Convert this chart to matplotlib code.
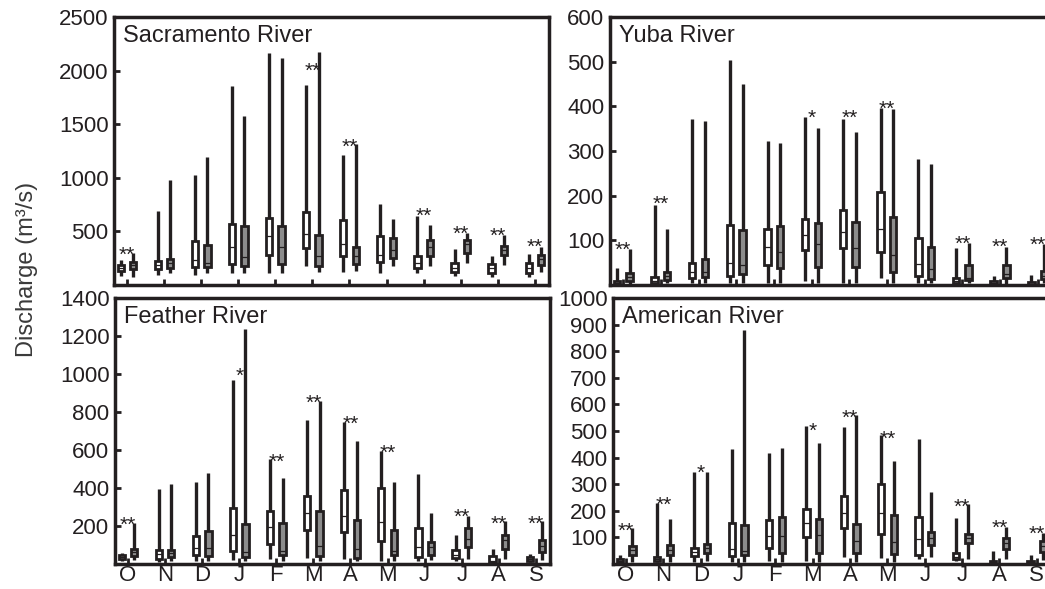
import matplotlib
matplotlib.use("Agg")
import matplotlib.pyplot as plt

plt.rcParams["font.family"] = ["Liberation Sans", "DejaVu Sans"]

months = ["O", "N", "D", "J", "F", "M", "A", "M", "J", "J", "A", "S"]

# per month: [whisker low, q1, median, q3, whisker high] in m3/s
sac_white = [[85, 130, 158, 185, 235], [94, 147, 187, 225, 688], [94, 172, 234, 412, 1025],
             [116, 197, 359, 569, 1859], [116, 281, 459, 625, 2166], [178, 344, 475, 684, 1869],
             [125, 272, 381, 603, 1212], [116, 219, 281, 453, 759], [109, 156, 203, 272, 647],
             [84, 125, 162, 203, 334], [72, 109, 156, 197, 272], [78, 116, 162, 203, 291]]
sac_gray = [[78, 150, 190, 215, 297], [109, 162, 203, 240, 984], [109, 172, 203, 375, 1197],
            [109, 181, 259, 553, 1572], [109, 197, 359, 547, 2122], [125, 181, 266, 469, 2172],
            [134, 197, 266, 359, 1312], [178, 250, 322, 438, 616], [178, 266, 359, 422, 562],
            [203, 297, 384, 422, 484], [188, 281, 322, 366, 469], [125, 188, 241, 281, 353]]
sac_stars = [(1, 344, "**"), (6, 2060, "**"), (7, 1353, "**"), (9, 703, "**"),
             (10, 537, "**"), (11, 516, "**"), (12, 416, "**")]

yuba_white = [[0, 2, 5, 10, 38], [0, 4, 8, 17, 180], [4, 15, 28, 49, 372],
              [4, 20, 49, 135, 504], [5, 44, 86, 126, 323], [8, 79, 113, 147, 376],
              [4, 83, 118, 169, 372], [15, 75, 126, 208, 396], [4, 20, 47, 106, 282],
              [0, 5, 10, 16, 83], [0, 2, 5, 10, 21], [0, 1, 3, 6, 22]]
yuba_gray = [[2, 8, 19, 26, 80], [4, 11, 20, 28, 126], [4, 17, 30, 58, 368],
             [4, 25, 45, 123, 449], [4, 38, 75, 132, 317], [4, 41, 92, 139, 351],
             [4, 41, 83, 141, 342], [4, 28, 68, 153, 395], [4, 14, 36, 86, 271],
             [5, 12, 16, 44, 93], [2, 16, 25, 44, 85], [4, 14, 20, 31, 91]]
yuba_stars = [(1, 94, "**"), (2, 196, "**"), (6, 389, "*"), (7, 389, "**"),
              (8, 410, "**"), (10, 106, "**"), (11, 100, "**"), (12, 105, "**")]

feather_white = [[17, 28, 35, 45, 58], [10, 28, 52, 75, 395], [14, 48, 82, 150, 430],
                 [19, 70, 152, 297, 968], [24, 105, 196, 278, 553], [31, 178, 268, 358, 760],
                 [28, 170, 253, 387, 745], [14, 119, 222, 402, 597], [14, 37, 89, 189, 474],
                 [14, 31, 49, 72, 154], [5, 10, 18, 42, 80], [10, 17, 24, 37, 54]]
feather_gray = [[20, 44, 65, 80, 215], [14, 38, 58, 76, 420], [14, 40, 82, 172, 478],
                [14, 35, 65, 210, 1239], [14, 45, 68, 214, 451], [14, 42, 93, 278, 856],
                [14, 33, 77, 233, 646], [14, 45, 66, 177, 434], [19, 49, 89, 115, 270],
                [28, 89, 133, 191, 255], [28, 80, 128, 154, 224], [19, 63, 93, 124, 226]]
feather_stars = [(1, 241, "**"), (4, 1025, "*"), (5, 574, "**"), (6, 882, "**"),
                 (7, 772, "**"), (8, 620, "**"), (10, 282, "**"), (11, 247, "**"),
                 (12, 247, "**")]

american_white = [[4, 9, 12, 19, 35], [6, 12, 19, 27, 229], [9, 29, 44, 62, 346],
                  [9, 31, 56, 156, 431], [12, 62, 106, 166, 416], [12, 100, 156, 206, 519],
                  [25, 134, 190, 256, 516], [21, 112, 190, 300, 485], [20, 35, 95, 176, 469],
                  [10, 17, 26, 41, 172], [2, 5, 8, 12, 47], [2, 5, 8, 12, 35]]
american_gray = [[9, 34, 52, 69, 134], [9, 35, 54, 71, 169], [12, 40, 59, 77, 346],
                 [9, 35, 50, 146, 879], [9, 40, 106, 175, 437], [9, 40, 109, 171, 456],
                 [9, 40, 87, 150, 560], [9, 37, 81, 185, 387], [26, 70, 97, 120, 270],
                 [20, 80, 97, 114, 226], [17, 57, 80, 97, 139], [14, 45, 67, 85, 117]]
american_stars = [(1, 150, "**"), (2, 246, "**"), (3, 369, "*"), (6, 525, "*"),
                  (7, 575, "**"), (8, 494, "**"), (10, 241, "**"), (11, 160, "**"),
                  (12, 139, "**")]

panels = [
    ("Sacramento River", sac_white, sac_gray, sac_stars, 2500, [500, 1000, 1500, 2000, 2500]),
    ("Yuba River", yuba_white, yuba_gray, yuba_stars, 600, [100, 200, 300, 400, 500, 600]),
    ("Feather River", feather_white, feather_gray, feather_stars, 1400,
     [200, 400, 600, 800, 1000, 1200, 1400]),
    ("American River", american_white, american_gray, american_stars, 1000,
     list(range(100, 1001, 100))),
]

W, H = 1045, 589
# axes rectangles in pixels: left, top, width, height
rects = [(114, 17, 435, 268), (610, 17, 442, 268),
         (115, 298, 435, 266), (613, 298, 438, 266)]

K = "#231f20"
fig = plt.figure(figsize=(W / 100, H / 100), dpi=100)


def to_stats(rows):
    return [dict(whislo=r[0], q1=r[1], med=r[2], q3=r[3], whishi=r[4]) for r in rows]


for i, (name, white, gray, stars, ymax, yt) in enumerate(panels):
    l, t, w, h = rects[i]
    ax = fig.add_axes([l / W, (H - t - h) / H, w / W, h / H])
    pos = list(range(1, 13))
    for rows, fc, dx in ((white, "white", -0.168), (gray, "#8c8c8c", 0.168)):
        ax.bxp(to_stats(rows), positions=[p + dx for p in pos], widths=0.17,
               patch_artist=True, showcaps=False, showfliers=False, manage_ticks=False,
               boxprops=dict(facecolor=fc, edgecolor=K, linewidth=2.0),
               whiskerprops=dict(color=K, linewidth=2.4, solid_capstyle="butt"),
               medianprops=dict(color=K, linewidth=0.9))
    for m, y, s in stars:
        ax.annotate(s, (m, y), xytext=(0, -9), textcoords="offset points",
                    ha="center", va="baseline", fontsize=15, color=K)
    ax.set_xlim(0.65, 12.38)
    ax.set_ylim(0, ymax)
    ax.set_yticks(yt)
    ax.set_xticks(pos)
    if i >= 2:
        ax.set_xticklabels(months)
    else:
        ax.set_xticklabels([])
    ax.tick_params(direction="in", length=4, width=2, color=K, labelsize=16,
                   labelcolor=K, pad=4)
    ax.tick_params(axis="x", pad=1, labelsize=16)
    for sp in ax.spines.values():
        sp.set_linewidth(2.5)
        sp.set_color(K)
    ax.text(0.021, 0.905, name, transform=ax.transAxes, fontsize=17, color=K,
            ha="left", va="baseline")

fig.text(27 / W, 1 - 269 / H, "Discharge (m³/s)", rotation=90, ha="center", va="center",
         fontsize=17, color="#3a3a3a")

fig.savefig("out.png", dpi=100)
